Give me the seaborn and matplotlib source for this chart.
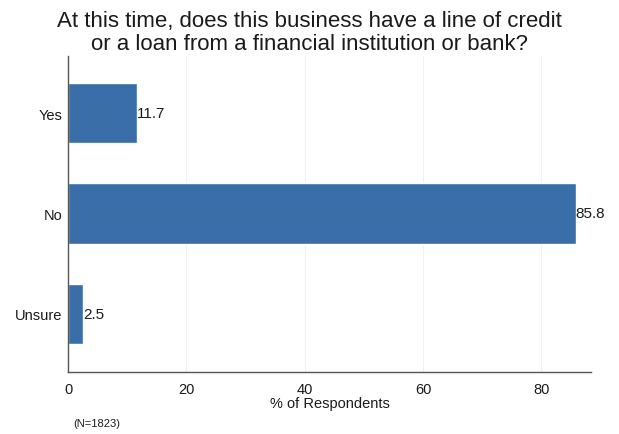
import matplotlib
matplotlib.use("Agg")
import matplotlib.pyplot as plt
import seaborn as sns
import pandas as pd

# Survey answers
answers = ["Yes", "No", "Unsure"]
percent = [11.7, 85.8, 2.5]
x_ticks = [0, 20, 40, 60, 80]

sns.set_style("white")
plt.rcParams["font.family"] = ["Liberation Sans", "DejaVu Sans"]

df = pd.DataFrame({"answer": answers, "pct": percent})

fig = plt.figure(figsize=(6.19, 4.35), dpi=100)
ax = fig.add_axes([0.110, 0.1425, 0.845, 0.7265])

sns.barplot(data=df, x="pct", y="answer", orient="h", color="#3a6ea8",
            saturation=1, width=0.6, ax=ax)

for i, v in enumerate(percent):
    ax.text(v, i, f"{v:.1f}", va="center", ha="left", fontsize=11, color="#1a1a1a")

ax.set_xlim(0, 88.4)
ax.set_ylim(2.58, -0.57)
ax.set_xticks(x_ticks)
ax.set_xticklabels([str(t) for t in x_ticks], fontsize=10.5, color="#1a1a1a")
ax.tick_params(axis="x", direction="out", length=5, width=0.8, color="#444444", pad=2)
ax.tick_params(axis="y", length=0, pad=4, labelsize=10.5, labelcolor="#1a1a1a")
for t in x_ticks[1:]:
    ax.axvline(t, color="#f0f0f0", lw=0.8, zorder=0)

ax.set_xlabel("% of Respondents", fontsize=10.5, labelpad=0.5, color="#1a1a1a")
ax.set_ylabel("")
for s in ["top", "right"]:
    ax.spines[s].set_visible(False)
for s in ["left", "bottom"]:
    ax.spines[s].set_color("#555555")
    ax.spines[s].set_linewidth(1.0)

fig.text(0.5, 0.975, "At this time, does this business have a line of credit\nor a loan from a financial institution or bank?",
         ha="center", va="top", fontsize=16, color="#1a1a1a", linespacing=1.12)
fig.text(0.118, 0.018, "(N=1823)", fontsize=8, color="#1a1a1a")

fig.savefig("out.png", dpi=100)
